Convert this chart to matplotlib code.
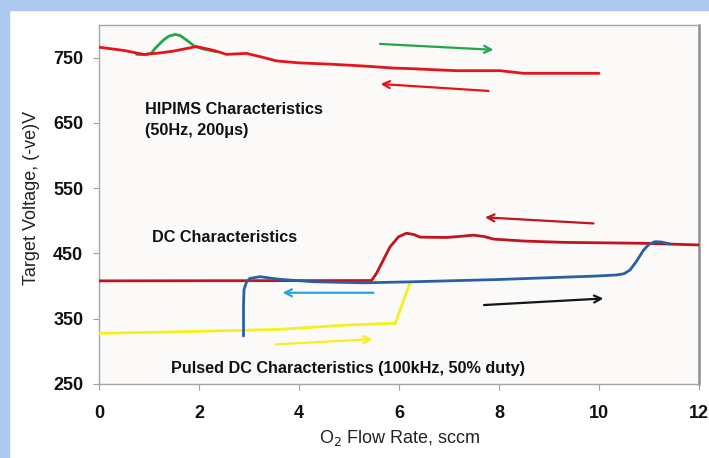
import matplotlib
matplotlib.use("Agg")
import matplotlib.pyplot as plt
from matplotlib.patches import Rectangle

plt.rcParams['font.family'] = ['Liberation Sans', 'DejaVu Sans']

# ---- data ----
hipims_dec_x = [0, 0.5, 0.89, 1.2, 1.49, 1.95, 2.3, 2.55, 2.95, 3.25, 3.55, 4.0, 4.62, 5.22, 5.9, 6.3, 6.55, 7.15, 8.02, 8.49, 9.0, 10.0]
hipims_dec_y = [766, 761, 755, 757, 760, 767, 761, 755, 756.5, 751, 745, 742, 740, 737.5, 734, 733, 732, 730, 730, 726, 726, 726]

hipims_inc_x = [0.75, 0.95, 1.05, 1.12, 1.29, 1.4, 1.52, 1.62, 1.75, 1.92, 2.1, 2.35]
hipims_inc_y = [755, 754.5, 757, 764, 777, 783, 785.5, 784, 777, 767, 763, 759]

dc_dec_x = [0, 5.45, 5.55, 5.82, 5.99, 6.15, 6.3, 6.42, 6.95, 7.2, 7.49, 7.7, 7.89, 8.5, 9.29, 10.95, 12]
dc_dec_y = [408, 408.5, 419.5, 460, 475.5, 481, 479, 475, 474.5, 476, 478, 476, 472, 469, 467, 465.5, 463]

pdc_dec_x = [2.89, 2.89, 2.9, 2.95, 3.02, 3.22, 3.45, 3.62, 4.29, 5.29, 6.22, 7.95, 9.95, 10.35, 10.5, 10.62, 10.75, 10.89, 11.0, 11.12, 11.25, 11.42]
pdc_dec_y = [323.5, 370, 395, 406, 411.8, 414.4, 412, 410.3, 406.7, 405, 406.5, 410, 415.4, 417, 419, 424.6, 438, 455, 464, 468, 467.5, 464.4]

pdc_inc_x = [0, 1.62, 3.62, 4.95, 5.88, 5.92, 6.22]
pdc_inc_y = [327.6, 330, 333.7, 340.3, 343, 342, 405]

# arrows: (x_start, y_start, x_end, y_end)
arrow_hip_inc = (5.62, 771, 7.89, 762)
arrow_hip_dec = (7.79, 699, 5.63, 709.6)
arrow_dc_dec = (9.89, 496, 7.72, 505.3)
arrow_pdc_dec = (5.49, 389.8, 3.67, 389.8)
arrow_pdc_inc = (3.54, 310.7, 5.47, 318.8)
arrow_dc_inc = (7.7, 371, 10.09, 381)

x_ticks = [0, 2, 4, 6, 8, 10, 12]
y_ticks = [250, 350, 450, 550, 650, 750]

W, H = 709, 458
fig = plt.figure(figsize=(W / 100, H / 100), dpi=100)
fig.patch.set_facecolor('white')
border = '#adc9f2'
fig.patches.append(Rectangle((0, 1 - 10 / H), 1, 10 / H, transform=fig.transFigure, color=border, zorder=0))
fig.patches.append(Rectangle((0, 0), 9 / W, 1, transform=fig.transFigure, color=border, zorder=0))

left, right, top, bottom = 99, 699, 25, 384
ax = fig.add_axes([left / W, 1 - bottom / H, (right - left) / W, (bottom - top) / H])
ax.set_facecolor('#fbfaf9')
ax.set_xlim(0, 12)
ax.set_ylim(250, 800)
ax.set_xticks(x_ticks)
ax.set_yticks(y_ticks)
ax.set_xticklabels([str(v) for v in x_ticks], fontsize=13, fontweight='bold')
ax.set_yticklabels([str(v) for v in y_ticks], fontsize=13, fontweight='bold')
ax.tick_params(axis='both', direction='out', length=4.3, width=0.8, color='#a0a0a0', labelcolor='#111111')
ax.tick_params(axis='y', pad=7)
ax.tick_params(axis='x', pad=10.5)
for s in ['left', 'top', 'bottom']:
    ax.spines[s].set_color('#a6a6a6')
    ax.spines[s].set_linewidth(1.0)
ax.spines['right'].set_color('#8e8e8e')
ax.spines['right'].set_linewidth(1.8)

lw = 2.0
ax.plot(hipims_inc_x, hipims_inc_y, color='#22a64b', lw=lw, solid_capstyle='round', zorder=3)
ax.plot(hipims_dec_x, hipims_dec_y, color='#e5141b', lw=lw, solid_capstyle='round', zorder=4)
ax.plot(pdc_inc_x, pdc_inc_y, color='#f5f01a', lw=lw, solid_capstyle='round', zorder=3)
ax.plot(dc_dec_x, dc_dec_y, color='#c0141e', lw=lw, solid_capstyle='round', zorder=4)
ax.plot(pdc_dec_x, pdc_dec_y, color='#2c5fa0', lw=lw, solid_capstyle='round', zorder=5)


def arrow(a, color):
    ax.annotate('', xy=(a[2], a[3]), xytext=(a[0], a[1]),
                arrowprops=dict(arrowstyle='->,head_length=0.5,head_width=0.25', color=color, lw=1.6,
                                shrinkA=0, shrinkB=0), zorder=6)


arrow(arrow_hip_inc, '#22a64b')
arrow(arrow_hip_dec, '#e5141b')
arrow(arrow_dc_dec, '#c0141e')
arrow(arrow_pdc_dec, '#29a3dd')
arrow(arrow_pdc_inc, '#f5f01a')
arrow(arrow_dc_inc, '#151515')

tk = dict(fontsize=11.7, fontweight='bold', color='#111111', va='center', ha='left')
ax.text(0.92, 670, 'HIPIMS Characteristics', **tk)
ax.text(0.92, 639, '(50Hz, 200μs)', **tk)
ax.text(1.06, 474, 'DC Characteristics', **tk)
ax.text(1.44, 274, 'Pulsed DC Characteristics (100kHz, 50% duty)', **tk)

fig.text(400 / W, 1 - 438 / H, r'O$_2$ Flow Rate, sccm', fontsize=13, ha='center', va='center', color='#222222')
fig.text(32 / W, 1 - 198 / H, 'Target Voltage, (-ve)V', fontsize=13, ha='center', va='center',
         rotation=90, color='#222222')

fig.savefig('out.png', dpi=100)
